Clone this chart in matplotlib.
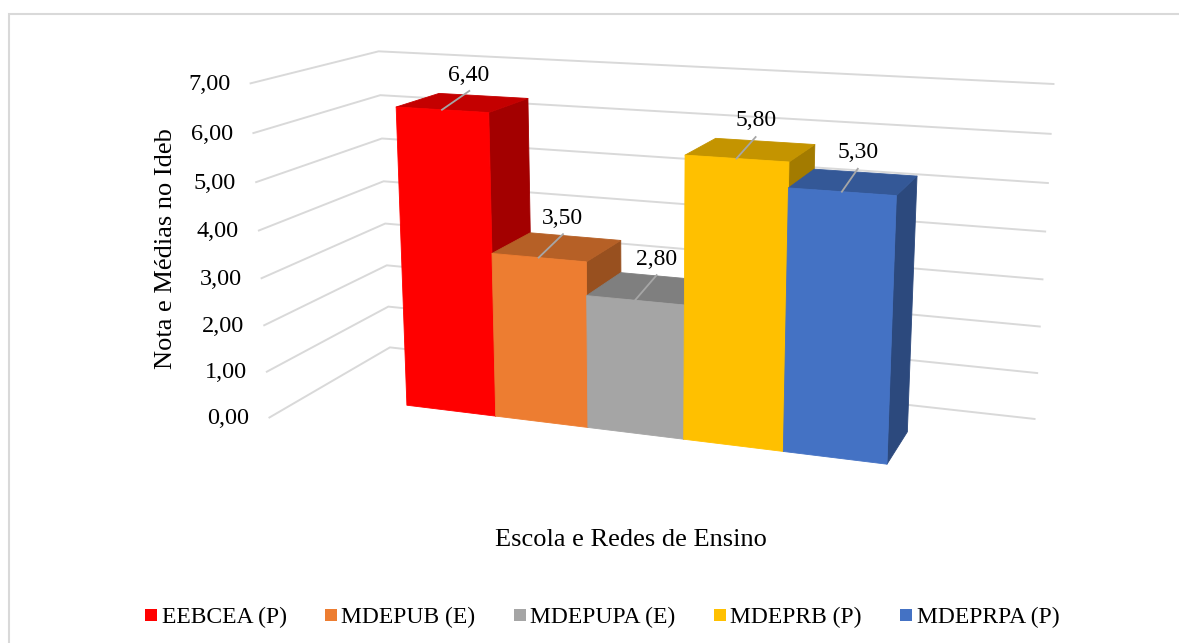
import numpy as np
import matplotlib
matplotlib.use("Agg")
import matplotlib.pyplot as plt
import matplotlib.transforms as mtransforms
from matplotlib.colors import to_rgb
from matplotlib.lines import Line2D
from matplotlib.patches import Rectangle
from mpl_toolkits.mplot3d import proj3d
from mpl_toolkits.mplot3d.art3d import Poly3DCollection

# ---- data -------------------------------------------------------------
schools = ["EEBCEA (P)", "MDEPUB (E)", "MDEPUPA (E)", "MDEPRB (P)", "MDEPRPA (P)"]
scores = [6.40, 3.50, 2.80, 5.80, 5.30]
bar_colors = ["#FF0000", "#ED7D31", "#A5A5A5", "#FFC000", "#4472C4"]
value_ticks = [0, 1, 2, 3, 4, 5, 6, 7]
y_title = "Nota e Médias no Ideb"
x_title = "Escola e Redes de Ensino"

plt.rcParams["font.family"] = ["Liberation Serif", "DejaVu Serif"]


def pt_br(v):
    return f"{v:.2f}".replace(".", ",")


def shade(color, factor):
    return tuple(np.array(to_rgb(color)) * factor)


# ---- scene geometry (in bar-width units) ------------------------------
FLOOR_W, FLOOR_D = 7.25, 2.55
BAR_W, BAR_D = 1.0, 0.94
X0 = (FLOOR_W - len(schools) * BAR_W) / 2
Y0 = (FLOOR_D - BAR_D) / 2
Z_MAX = value_ticks[-1]
Z_ASPECT = 3.38
GRID = "#D9D9D9"

fig = plt.figure(figsize=(11.79, 6.43), dpi=100, facecolor="white")
ax = fig.add_axes([0.19067, -0.06019, 0.70483, 1.29238], projection="3d")
ax.set_box_aspect((FLOOR_W, FLOOR_D, Z_ASPECT), zoom=1.0)
ax.view_init(elev=14.0, azim=-70.3, roll=0)
ax.set_proj_type("persp", focal_length=0.3853)
ax.set_xticks([])
ax.set_yticks([])
ax.set_zticks([])
for axis in (ax.xaxis, ax.yaxis, ax.zaxis):
    axis.label.set_visible(False)
    axis.offsetText.set_visible(False)
for ttl in (ax.title, ax._left_title, ax._right_title):
    ttl.set_visible(False)
ax.set_axis_off()
ax.patch.set_visible(False)
ax.computed_zorder = False

# side wall + back wall gridlines
for v in value_ticks:
    ax.plot([0, 0, FLOOR_W], [0, FLOOR_D, FLOOR_D], [v, v, v],
            color=GRID, lw=1.4, zorder=1, solid_joinstyle="miter")

# bars, drawn left to right so nearer (right) bars cover the previous ones
for i, (val, col) in enumerate(zip(scores, bar_colors)):
    x0 = X0 + i * BAR_W
    x1 = x0 + BAR_W
    y0, y1 = Y0, Y0 + BAR_D
    front = [(x0, y0, 0), (x1, y0, 0), (x1, y0, val), (x0, y0, val)]
    top = [(x0, y0, val), (x1, y0, val), (x1, y1, val), (x0, y1, val)]
    right = [(x1, y0, 0), (x1, y1, 0), (x1, y1, val), (x1, y0, val)]
    faces = [right, top, front]
    fcols = [shade(col, 0.64), shade(col, 0.77), to_rgb(col)]
    pc = Poly3DCollection(faces, facecolors=fcols, edgecolors=fcols,
                          linewidths=0.6, zorder=2 + i)
    ax.add_collection3d(pc)

# leader lines of the data labels
LEAD_DY, LEAD_DZ, LABEL_DZ = 0.62, 0.2, 0.33
for i, val in enumerate(scores):
    xc = X0 + (i + 0.5) * BAR_W
    ax.plot([xc, xc], [Y0, Y0 + LEAD_DY], [val, val + LEAD_DZ],
            color="#A6A6A6", lw=1.3, zorder=20)

ax.set_xlim(0, FLOOR_W)
ax.set_ylim(0, FLOOR_D)
ax.set_zlim(0, Z_MAX)

# texts are placed at the 2D projection of their 3D anchor points
M = ax.get_proj()


def project(x, y, z):
    xs, ys, _ = proj3d.proj_transform(x, y, z, M)
    return float(xs), float(ys)


# value labels sit a fixed distance to the left of each gridline's front end
tick_trans = mtransforms.offset_copy(ax.transData, fig=fig, x=-20, y=-1,
                                     units="dots")
for v in value_ticks:
    px, py = project(0, 0, v)
    ax.text2D(px, py, pt_br(v), ha="right", va="center", fontsize=17.5,
              color="#000000", zorder=1, transform=tick_trans)

for i, val in enumerate(scores):
    xc = X0 + (i + 0.5) * BAR_W
    px, py = project(xc, Y0 + LEAD_DY, val + LEAD_DZ + LABEL_DZ)
    ax.text2D(px, py, pt_br(val), ha="center", va="center", fontsize=17,
              color="#000000", zorder=21, transform=ax.transData)

# titles
fig.text(165.5 / 1179, 1 - 249 / 643, y_title, rotation=90, ha="center",
         va="center", fontsize=19)
fig.text(630.5 / 1179, 1 - 540 / 643, x_title, ha="center", va="center",
         fontsize=19)

# legend
handles = [Line2D([], [], ls="none", marker="s", markersize=8.64,
                  markerfacecolor=c, markeredgewidth=0) for c in bar_colors]
fig.legend(handles, schools, loc="center", bbox_to_anchor=(0.5096, 0.0393),
           ncol=5, frameon=False, fontsize=17, handlelength=0.72,
           handletextpad=0.1, columnspacing=1.5, borderpad=0,
           borderaxespad=0)

# chart area outline
fig.add_artist(Rectangle((9.5 / 1179, -0.5), 2.0, 0.5 + 1 - 14 / 643,
                         transform=fig.transFigure, fill=False,
                         edgecolor=GRID, lw=1.5))

fig.savefig("out.png", dpi=100, facecolor="white")
